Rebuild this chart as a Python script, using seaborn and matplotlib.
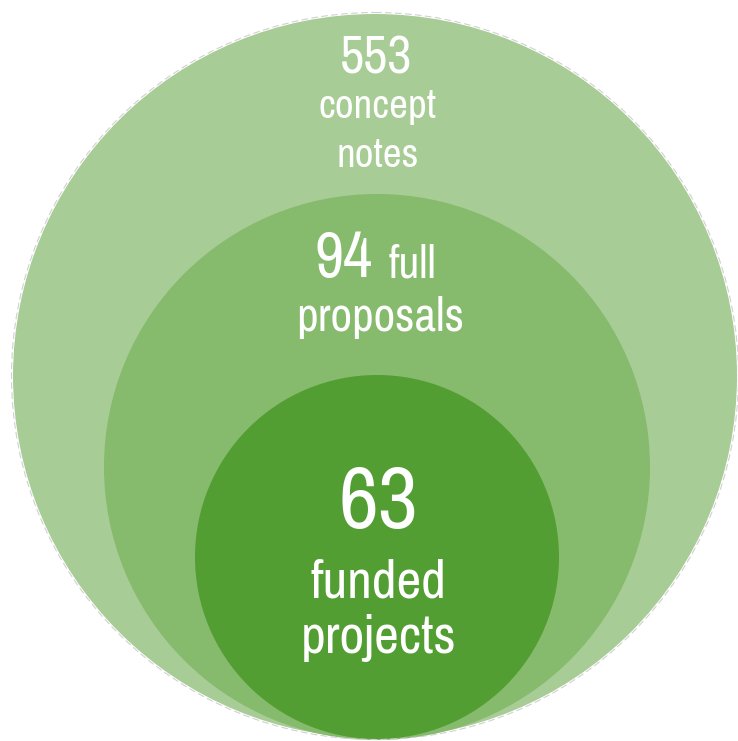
import matplotlib
matplotlib.use("Agg")
import matplotlib.pyplot as plt
from matplotlib.patches import Circle
import seaborn as sns

# funnel stages, outermost first
counts = [553, 94, 63]
labels = ["concept notes", "full proposals", "funded projects"]
colors = ["#a7cc95", "#86ba6c", "#529e32"]

sns.set_theme(style="white")
plt.rcParams["font.family"] = ["Archivo Narrow", "Roboto Condensed", "DejaVu Sans"]

fig = plt.figure(figsize=(7.38, 7.41), dpi=100)
ax = fig.add_axes([0, 0, 1, 1])
ax.set_xlim(0, 738)
ax.set_ylim(741, 0)
ax.set_aspect("equal")
ax.axis("off")

# nested circles sitting on a common bottom point
circles = [(375, 376, 362), (377, 467, 273), (377, 557, 182)]
for (cx, cy, r), c in zip(circles, colors):
    ax.add_patch(Circle((cx, cy), r, facecolor=c, edgecolor="none"))
ax.add_patch(Circle(circles[0][:2], circles[0][2] + 1.5, facecolor="none",
                    edgecolor="#d0d0d0", lw=0.8, ls=(0, (6, 3))))

w = "white"
# outer stage
ax.text(376, 74, f"{counts[0]}", color=w, fontsize=38, ha="center", va="baseline")
ax.text(378, 118, labels[0].split()[0], color=w, fontsize=29.5, ha="center", va="baseline")
ax.text(378, 167, labels[0].split()[1], color=w, fontsize=29.5, ha="center", va="baseline")

# middle stage
ax.text(373, 277, f"{counts[1]}", color=w, fontsize=46, ha="right", va="baseline")
ax.text(389, 277, labels[1].split()[0], color=w, fontsize=33, ha="left", va="baseline")
ax.text(380, 331, labels[1].split()[1], color=w, fontsize=34, ha="center", va="baseline")

# inner stage
ax.text(378, 528, f"{counts[2]}", color=w, fontsize=63, ha="center", va="baseline")
ax.text(378, 598, labels[2].split()[0], color=w, fontsize=39, ha="center", va="baseline")
ax.text(379, 653, labels[2].split()[1], color=w, fontsize=39, ha="center", va="baseline")

fig.savefig("out.png", dpi=100, facecolor="white")
